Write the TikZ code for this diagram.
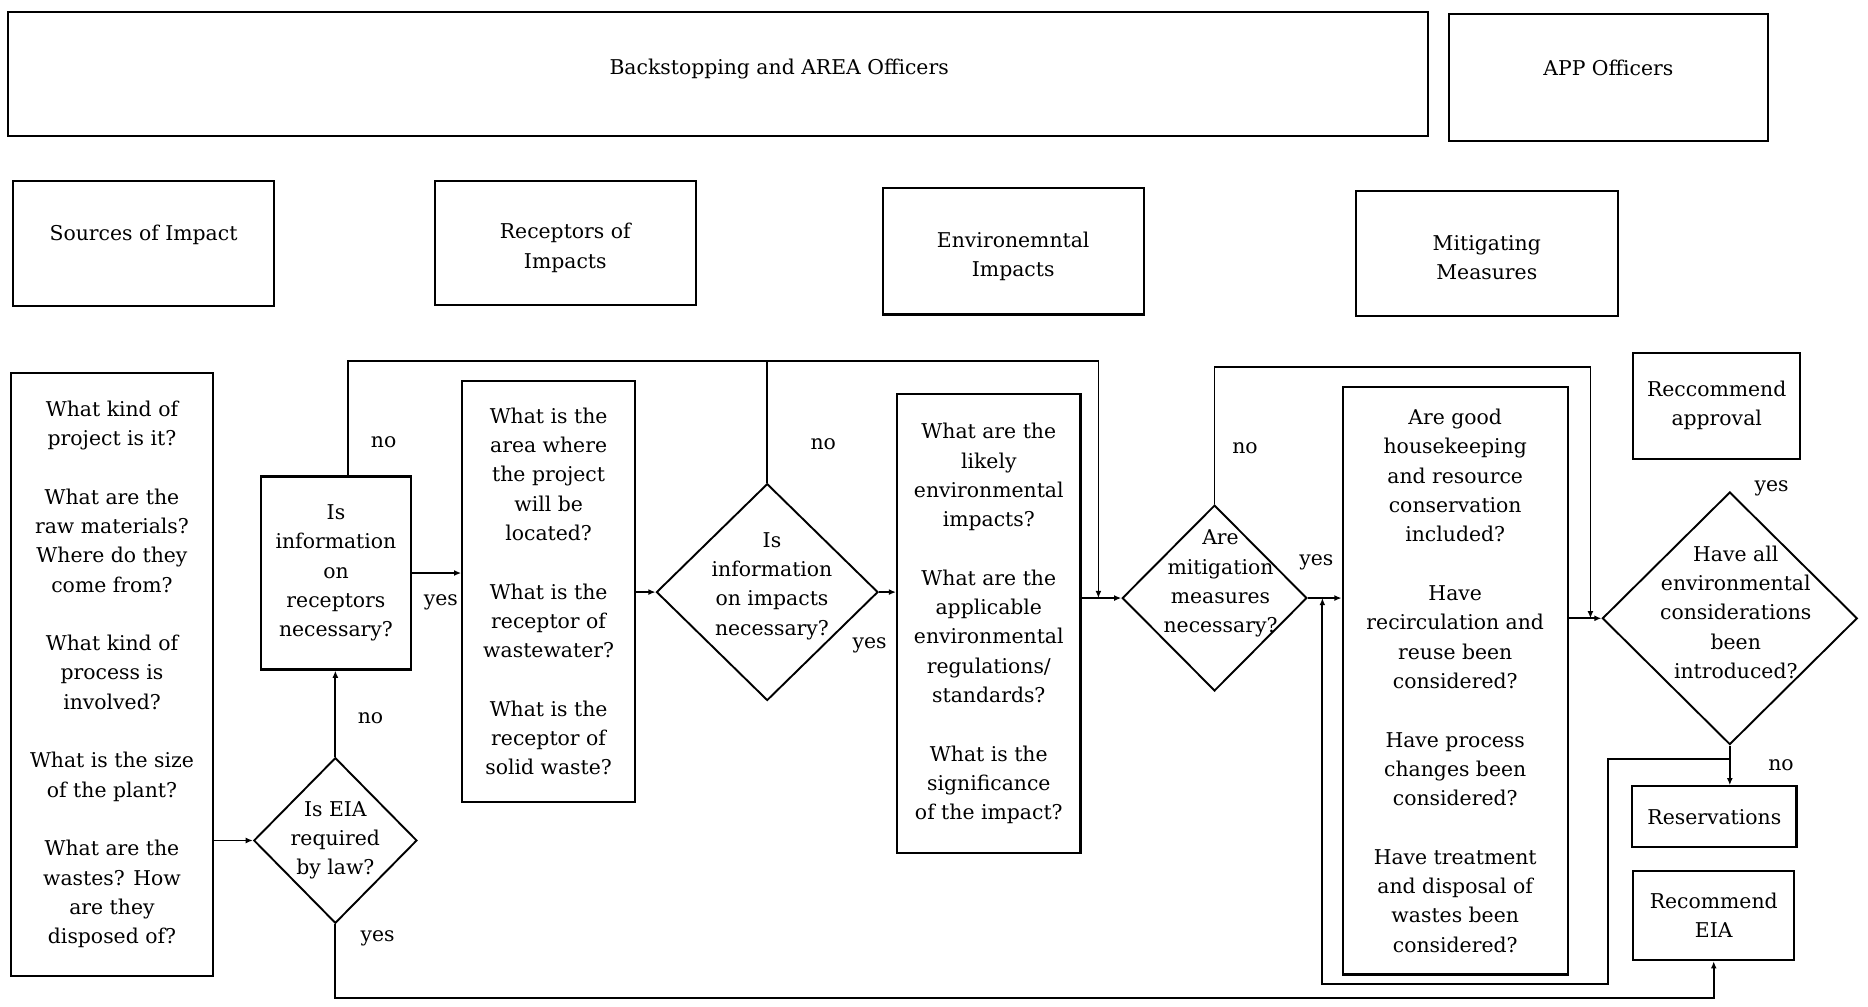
\documentclass[tikz,border=0pt]{standalone}
\usepackage{fontspec}
\setmainfont{DejaVu Serif}
\usetikzlibrary{arrows.meta,shapes.geometric}
\newcommand\qfont{\fontsize{17.1}{24.6}\selectfont}
\begin{document}
\begin{tikzpicture}[x=1pt,y=-1pt,
  every node/.style={font=\qfont, align=center},
  box/.style={draw, line width=1.8pt, rectangle, inner sep=0pt},
  dia/.style={draw, line width=1.6pt, diamond, inner sep=0pt, aspect=1},
  arr/.style={line width=1.5pt, -{Latex[length=6pt,width=5pt]}},
  ln/.style={line width=1.5pt},
  lab/.style={inner sep=0pt}]
\useasboundingbox (0,0) rectangle (1568,845);

% role headers
\node[box, minimum width=1192pt, minimum height=104pt,
      label={[xshift=51pt,yshift=4pt]center:Backstopping and AREA Officers}] (b1) at (603,62) {};
\node[box, minimum width=268pt, minimum height=106pt,
      label={[yshift=8pt]center:APP Officers}] (b2) at (1350,65) {};

% column headers
\node[box, minimum width=219pt, minimum height=105pt,
      label={[yshift=7pt]center:Sources of Impact}] (h1) at (120.5,204.5) {};
\node[box, minimum width=219pt, minimum height=104pt,
      label={[yshift=-4pt]center:Receptors of\\Impacts}] (h2) at (474.5,204) {};
\node[box, minimum width=219pt, minimum height=106pt,
      label={[yshift=-4pt]center:Environemntal\\Impacts}] (h3) at (850.5,211) {};
\node[box, minimum width=220pt, minimum height=105pt,
      label={[yshift=-4pt]center:Mitigating\\Measures}] (h4) at (1248,212.5) {};

% question boxes
\node[box, minimum width=170pt, minimum height=506pt] (q1) at (94,566)
  {What kind of\\project is it?\\[24.6pt]
   What are the\\raw materials?\\Where do they\\come from?\\[24.6pt]
   What kind of\\process is\\involved?\\[24.6pt]
   What is the size\\of the plant?\\[24.6pt]
   What are the\\wastes? How\\are they\\disposed of?};
\node[box, minimum width=126pt, minimum height=162pt] (i1) at (282,481)
  {Is\\information\\on\\receptors\\necessary?};
\node[box, minimum width=145pt, minimum height=353pt] (q2) at (460.5,496.5)
  {What is the\\area where\\the project\\will be\\located?\\[24.6pt]
   What is the\\receptor of\\wastewater?\\[24.6pt]
   What is the\\receptor of\\solid waste?};
\node[box, minimum width=154pt, minimum height=385pt] (q3) at (830,523.5)
  {What are the\\likely\\environmental\\impacts?\\[24.6pt]
   What are the\\applicable\\environmental\\regulations/\\standards?\\[24.6pt]
   What is the\\significance\\of the impact?};
\node[box, minimum width=189pt, minimum height=493pt] (q4) at (1221.5,571.5)
  {Are good\\housekeeping\\and resource\\conservation\\included?\\[24.6pt]
   Have\\recirculation and\\reuse been\\considered?\\[24.6pt]
   Have process\\changes been\\considered?\\[24.6pt]
   Have treatment\\and disposal of\\wastes been\\considered?};

% outcome boxes
\node[box, minimum width=140pt, minimum height=89pt] (ra) at (1441,340.5) {Reccommend\\approval};
\node[box, minimum width=138pt, minimum height=51pt] (rs) at (1439,685.5) {Reservations};
\node[box, minimum width=135pt, minimum height=75pt] (re) at (1438.5,768.5) {Recommend\\EIA};

% decisions
\node[dia, minimum width=137pt, minimum height=139pt,
      label={[yshift=0pt]center:Is EIA\\required\\by law?}] (d1) at (281.5,705.5) {};
\node[dia, minimum width=186pt, minimum height=182pt,
      label={[xshift=4pt,yshift=5pt]center:Is\\information\\on impacts\\necessary?}] (d2) at (644,497) {};
\node[dia, minimum width=155pt, minimum height=156pt,
      label={[xshift=5pt,yshift=12pt]center:Are\\mitigation\\measures\\necessary?}] (d3) at (1019.5,502) {};
\node[dia, minimum width=214pt, minimum height=212pt,
      label={[xshift=5pt,yshift=5pt]center:Have all\\environmental\\considerations\\been\\introduced?}] (d4) at (1452,519) {};

% loop and junction points
\coordinate (loopA) at (922,303);
\coordinate (loopB) at (1335,308);
\coordinate (fbA) at (1350,637);
\coordinate (fbB) at (1110,826);
\coordinate (bot) at (283,838);

% main flow
\draw[arr] (q1.east |- d1.west) -- (d1.west);
\draw[arr] (d1.north) -- (d1.north |- i1.south);
\draw[arr] (i1.east) -- (q2.west |- i1.east);
\draw[arr] (q2.east |- d2.west) -- (d2.west);
\draw[arr] (d2.east) -- (q3.west |- d2.east);
\draw[arr] (q3.east |- d3.west) -- (d3.west);
\draw[arr] (d3.east) -- (q4.west |- d3.east);
\draw[arr] (q4.east |- d4.west) -- (d4.west);
\draw[arr] (d4.south) -- (rs.north -| d4.south);

% "no" branches skipping ahead
\draw[arr] ([xshift=10pt]i1.north) |- (loopA) -- (loopA |- d3.west);
\draw[ln] (d2.north) -- (d2.north |- loopA);
\draw[arr] (d3.north) |- (loopB) -- (loopB |- d4.west);

% feedback from reservations back to mitigation
\draw[arr] (d4.south |- fbA) -- (fbA) |- (fbB) -- (fbB |- d3.east);

% EIA required
\draw[arr] (d1.south) |- (bot -| re.south) -- (re.south);

% branch labels
\node[lab] (l1) at (322,371) {no};
\node[lab] (l2) at (370,506) {yes};
\node[lab] (l3) at (311,603) {no};
\node[lab] (l4) at (317,788) {yes};
\node[lab] (l5) at (691,373) {no};
\node[lab] (l6) at (730,542) {yes};
\node[lab] (l7) at (1045,376) {no};
\node[lab] (l8) at (1105,472) {yes};
\node[lab] (l9) at (1487,410) {yes};
\node[lab] (l10) at (1495,642) {no};
\end{tikzpicture}
\end{document}
